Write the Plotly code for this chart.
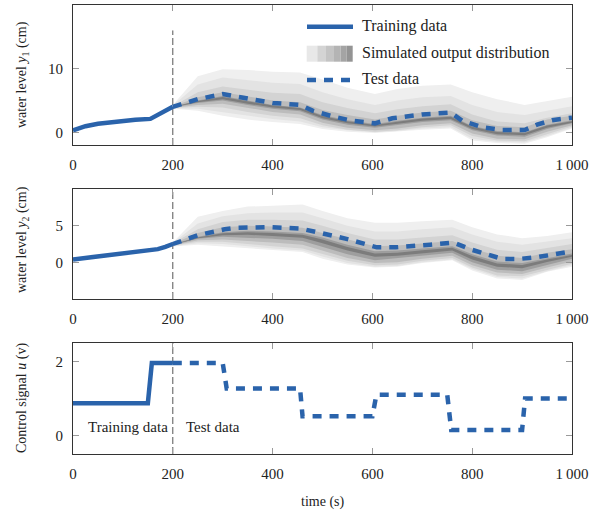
import plotly.graph_objects as go

# ---------------- data ----------------
split_time = 200

# panel 1: water level y1
train_t1 = [0, 10, 25, 50, 75, 100, 125, 155, 175, 200]
train_y1 = [0.3, 0.6, 0.95, 1.35, 1.6, 1.8, 1.95, 2.1, 3.0, 4.0]
test_t1 = [200, 250, 300, 350, 400, 455, 480, 520, 560, 605, 640, 700, 757, 780, 820, 860, 905, 930, 960, 1000]
test_y1 = [4.0, 5.2, 6.0, 5.3, 4.6, 4.3, 3.4, 2.5, 1.8, 1.4, 2.2, 2.8, 3.1, 1.8, 0.8, 0.35, 0.35, 1.2, 1.9, 2.3]

dist_t1 = [200, 250, 300, 350, 400, 455, 500, 550, 605, 650, 700, 757, 800, 850, 905, 950, 1000]
y1_u1 = [4.3, 8.8, 9.9, 9.8, 9.5, 9.4, 8.3, 7.0, 6.0, 6.8, 7.3, 7.5, 6.3, 5.2, 4.3, 4.9, 5.6]
y1_l1 = [3.7, 3.4, 2.6, 2.0, 1.6, 1.3, 0.5, 0.1, -0.1, 0.1, 0.4, 0.6, -1.3, -1.7, -1.8, -0.8, 0.6]
y1_u2 = [4.2, 7.5, 8.6, 8.2, 7.8, 7.6, 6.3, 5.2, 4.3, 5.0, 5.5, 5.7, 4.3, 3.2, 2.7, 3.4, 4.1]
y1_l2 = [3.75, 3.7, 3.2, 2.6, 2.1, 1.7, 0.8, 0.3, 0.0, 0.2, 0.6, 0.8, -1.0, -1.5, -1.6, -0.6, 0.7]
y1_u3 = [4.1, 6.3, 7.2, 6.7, 6.2, 6.0, 4.7, 3.8, 3.0, 3.6, 4.1, 4.4, 2.8, 1.7, 1.4, 2.3, 3.0]
y1_l3 = [3.8, 4.0, 3.9, 3.2, 2.6, 2.2, 1.1, 0.4, 0.1, 0.3, 0.8, 1.1, -0.6, -1.3, -1.4, -0.3, 0.9]
y1_u4 = [4.05, 5.5, 6.3, 5.6, 5.0, 4.7, 3.5, 2.7, 2.0, 2.6, 3.1, 3.4, 1.9, 1.0, 0.8, 2.0, 2.6]
y1_l4 = [3.85, 4.3, 4.5, 3.8, 3.2, 2.8, 1.5, 0.7, 0.3, 0.6, 1.1, 1.4, -0.2, -1.0, -1.1, 0.1, 1.1]
y1_u5 = [4.0, 5.0, 5.7, 5.0, 4.3, 3.9, 2.7, 1.9, 1.3, 1.8, 2.3, 2.6, 1.0, 0.2, 0.0, 1.2, 1.9]
y1_l5 = [3.9, 4.6, 5.0, 4.3, 3.7, 3.3, 2.0, 1.2, 0.7, 1.1, 1.6, 1.9, 0.3, -0.5, -0.7, 0.5, 1.4]
y1_u6 = [3.98, 4.9, 5.55, 4.85, 4.2, 3.8, 2.55, 1.75, 1.15, 1.65, 2.15, 2.45, 0.85, 0.05, -0.1, 1.05, 1.75]
y1_l6 = [3.92, 4.7, 5.2, 4.5, 3.9, 3.5, 2.2, 1.4, 0.9, 1.3, 1.8, 2.1, 0.5, -0.3, -0.45, 0.7, 1.5]

# panel 2: water level y2
train_t2 = [0, 25, 50, 75, 100, 125, 150, 170, 185, 200]
train_y2 = [0.4, 0.6, 0.9, 1.15, 1.35, 1.5, 1.65, 1.8, 2.1, 2.5]
test_t2 = [200, 250, 304, 327, 395, 456, 487, 548, 609, 647, 716, 762, 800, 861, 892, 930, 1000]
test_y2 = [2.5, 3.7, 4.5, 4.7, 4.8, 4.6, 4.15, 3.2, 2.05, 2.05, 2.4, 2.7, 1.7, 0.45, 0.45, 0.7, 1.5]

dist_t2 = [200, 250, 300, 350, 400, 460, 500, 550, 605, 650, 700, 760, 800, 850, 900, 950, 1000]
y2_u1 = [2.7, 6.2, 7.0, 7.6, 7.7, 7.9, 7.0, 6.0, 5.4, 5.4, 5.6, 5.8, 4.8, 3.8, 3.3, 3.6, 4.1]
y2_l1 = [2.15, 2.4, 2.2, 1.9, 1.7, 1.4, 0.5, -0.3, -0.7, -0.6, -0.1, 0.3, -1.1, -2.2, -2.4, -1.3, -0.6]
y2_u2 = [2.65, 5.3, 6.3, 6.7, 6.8, 6.8, 6.0, 5.0, 4.2, 4.2, 4.5, 4.8, 3.8, 2.8, 2.4, 2.8, 3.3]
y2_l2 = [2.2, 2.6, 2.5, 2.2, 1.9, 1.6, 0.8, -0.1, -0.6, -0.5, 0.0, 0.4, -0.9, -2.0, -2.2, -1.2, -0.4]
y2_u3 = [2.6, 4.5, 5.5, 5.8, 5.8, 5.7, 5.0, 4.0, 3.1, 3.1, 3.4, 3.7, 2.7, 1.7, 1.4, 1.9, 2.5]
y2_l3 = [2.25, 2.8, 2.8, 2.5, 2.2, 1.9, 1.1, 0.2, -0.4, -0.3, 0.2, 0.6, -0.7, -1.8, -1.9, -1.0, -0.2]
y2_u4 = [2.55, 4.0, 4.8, 5.0, 4.9, 4.7, 4.0, 3.1, 2.2, 2.3, 2.6, 2.9, 1.9, 0.9, 0.6, 1.3, 1.8]
y2_l4 = [2.3, 3.0, 3.1, 2.9, 2.7, 2.4, 1.6, 0.6, -0.1, 0.0, 0.5, 0.9, -0.4, -1.4, -1.6, -0.7, 0.1]
y2_u5 = [2.45, 3.5, 4.1, 4.3, 4.2, 4.0, 3.4, 2.4, 1.5, 1.6, 1.9, 2.2, 1.1, 0.1, -0.1, 0.6, 1.2]
y2_l5 = [2.35, 3.2, 3.5, 3.4, 3.2, 2.9, 2.1, 1.1, 0.3, 0.5, 0.9, 1.3, 0.0, -1.0, -1.2, -0.3, 0.5]
y2_u6 = [2.42, 3.4, 3.95, 4.1, 4.0, 3.75, 3.1, 2.1, 1.2, 1.3, 1.65, 2.0, 0.85, -0.15, -0.35, 0.4, 1.0]
y2_l6 = [2.38, 3.3, 3.7, 3.75, 3.6, 3.35, 2.6, 1.6, 0.75, 0.9, 1.25, 1.6, 0.4, -0.6, -0.8, 0.05, 0.75]

# panel 3: control signal u
train_tu = [0, 150, 158, 200]
train_u = [0.87, 0.87, 1.96, 1.96]
test_tu = [200, 300, 308, 455, 460, 600, 608, 750, 758, 900, 906, 1000]
test_u = [1.96, 1.96, 1.27, 1.27, 0.52, 0.52, 1.1, 1.1, 0.15, 0.15, 1.0, 1.0]

x_ticks = [0, 200, 400, 600, 800, 1000]
x_ticktext = ["0", "200", "400", "600", "800", "1\u2009000"]
y1_ticks = [0, 10]
y2_ticks = [0, 5]
u_ticks = [0, 2]

# ---------------- style ----------------
BLUE = "#2a63ab"
FONT = "Liberation Serif, DejaVu Serif, serif"
TXT = "#222222"
band_colors = ["#efefef", "#e3e3e3", "#d3d3d3", "#bcbcbc", "#9e9e9e", "#7c7c7c"]
legend_shades = ["#e8e8e8", "#d4d4d4", "#c4c4c4", "#b4b4b4", "#a4a4a4", "#949494"]

fig = go.Figure()


def add_bands(t, bands, xa, ya):
    for (up, lo), col in zip(bands, band_colors):
        fig.add_trace(go.Scatter(
            x=list(t) + list(t[::-1]), y=list(up) + list(lo[::-1]),
            fill="toself", fillcolor=col, line=dict(width=0),
            mode="lines", hoverinfo="skip", showlegend=False,
            xaxis=xa, yaxis=ya))


def add_vline(ya, y0, y1, xa):
    fig.add_trace(go.Scatter(
        x=[split_time, split_time], y=[y0, y1], mode="lines",
        line=dict(color="#555555", width=1, dash="7px,3px"),
        showlegend=False, hoverinfo="skip", xaxis=xa, yaxis=ya))


def add_lines(tt, ty, vt, vy, xa, ya):
    fig.add_trace(go.Scatter(x=tt, y=ty, mode="lines",
                             line=dict(color=BLUE, width=4.5),
                             showlegend=False, xaxis=xa, yaxis=ya))
    fig.add_trace(go.Scatter(x=vt, y=vy, mode="lines",
                             line=dict(color=BLUE, width=4.5, dash="9px,8px"),
                             showlegend=False, xaxis=xa, yaxis=ya))


# panel 1
add_bands(dist_t1, [(y1_u1, y1_l1), (y1_u2, y1_l2), (y1_u3, y1_l3),
                    (y1_u4, y1_l4), (y1_u5, y1_l5), (y1_u6, y1_l6)], "x", "y")
add_vline("y", -2, 16, "x")
add_lines(train_t1, train_y1, test_t1, test_y1, "x", "y")

# panel 2
add_bands(dist_t2, [(y2_u1, y2_l1), (y2_u2, y2_l2), (y2_u3, y2_l3),
                    (y2_u4, y2_l4), (y2_u5, y2_l5), (y2_u6, y2_l6)], "x2", "y2")
add_vline("y2", -5, 10, "x2")
add_lines(train_t2, train_y2, test_t2, test_y2, "x2", "y2")

# panel 3
add_vline("y3", -0.5, 2.5, "x3")
add_lines(train_tu, train_u, test_tu, test_u, "x3", "y3")

# ---------------- axes ----------------
W, H = 598, 513
L, R, T, B = 73, 26, 5, 59
PH = H - T - B


def dom(top_px, bot_px):
    return [(H - B - bot_px) / PH, (H - B - top_px) / PH]


common_x = dict(range=[0, 1000], tickvals=x_ticks, ticktext=x_ticktext,
                ticks="inside", ticklen=6, tickcolor="#9a9a9a", tickwidth=1,
                showline=True, linecolor="#333333", linewidth=1, mirror="ticks",
                showgrid=False, zeroline=False, ticklabelstandoff=6,
                tickfont=dict(family=FONT, size=15, color=TXT))
common_y = dict(ticks="inside", ticklen=6, tickcolor="#9a9a9a", tickwidth=1,
                showline=True, linecolor="#333333", linewidth=1, mirror="ticks",
                showgrid=False, zeroline=False, ticklabelstandoff=6,
                tickfont=dict(family=FONT, size=15, color=TXT))

d1 = dom(5, 145)
d2 = dom(189, 299)
d3 = dom(343, 454)

fig.update_layout(
    width=W, height=H,
    margin=dict(l=L, r=R, t=T, b=B),
    paper_bgcolor="white", plot_bgcolor="white",
    showlegend=False,
    font=dict(family=FONT, size=15, color=TXT),
    xaxis=dict(common_x, domain=[0, 1], anchor="y"),
    yaxis=dict(common_y, domain=d1, range=[-2, 20], tickvals=y1_ticks, anchor="x"),
    xaxis2=dict(common_x, domain=[0, 1], anchor="y2"),
    yaxis2=dict(common_y, domain=d2, range=[-5, 10], tickvals=y2_ticks, anchor="x2"),
    xaxis3=dict(common_x, domain=[0, 1], anchor="y3"),
    yaxis3=dict(common_y, domain=d3, range=[-0.5, 2.5], tickvals=u_ticks, anchor="x3"),
)


def px(xp):
    return (xp - L) / (W - L - R)


def py(yp):
    return (H - B - yp) / PH


annotations = []
# y titles
for text, yc in [("water level <i>y</i><sub>1</sub> (cm)", 75),
                 ("water level <i>y</i><sub>2</sub> (cm)", 240),
                 ("Control signal <i>u</i> (v)", 398)]:
    annotations.append(dict(text=text, x=px(22), y=py(yc), xref="paper", yref="paper",
                            textangle=-90, showarrow=False, xanchor="center", yanchor="middle",
                            font=dict(family=FONT, size=14, color=TXT)))
# x title
annotations.append(dict(text="time (s)", x=0.5, y=py(502), xref="paper", yref="paper",
                        showarrow=False, xanchor="center", yanchor="middle",
                        font=dict(family=FONT, size=14, color=TXT)))
# panel 3 labels
annotations.append(dict(text="Training data", x=110, y=0.22, xref="x3", yref="y3",
                        showarrow=False, xanchor="center", yanchor="middle",
                        font=dict(family=FONT, size=15, color=TXT)))
annotations.append(dict(text="Test data", x=281, y=0.22, xref="x3", yref="y3",
                        showarrow=False, xanchor="center", yanchor="middle",
                        font=dict(family=FONT, size=15, color=TXT)))
# legend texts
for text, yc in [("Training data", 26), ("Simulated output distribution", 53), ("Test data", 79)]:
    annotations.append(dict(text=text, x=px(360), y=py(yc), xref="paper", yref="paper",
                            showarrow=False, xanchor="left", yanchor="middle",
                            font=dict(family=FONT, size=16, color=TXT)))

shapes = []
# legend: training line
shapes.append(dict(type="line", xref="paper", yref="paper", x0=px(307), x1=px(353),
                   y0=py(26.7), y1=py(26.7), line=dict(color=BLUE, width=4.5)))
# legend: gradient patch
edges = [306.7, 317.3, 326, 334, 340.7, 346.7, 352.7]
for i, c in enumerate(legend_shades):
    shapes.append(dict(type="rect", xref="paper", yref="paper", x0=px(edges[i]), x1=px(edges[i + 1]),
                       y0=py(61.7), y1=py(45.7), fillcolor=c, line=dict(width=0)))
# legend: test dashed line
shapes.append(dict(type="line", xref="paper", yref="paper", x0=px(307), x1=px(353),
                   y0=py(80), y1=py(80), line=dict(color=BLUE, width=4.5, dash="9px,8px")))

fig.update_layout(annotations=annotations, shapes=shapes)

fig.write_html("out.html", config={"displayModeBar": False},
               post_script="document.body.style.margin='0';document.body.style.overflow='hidden';")
